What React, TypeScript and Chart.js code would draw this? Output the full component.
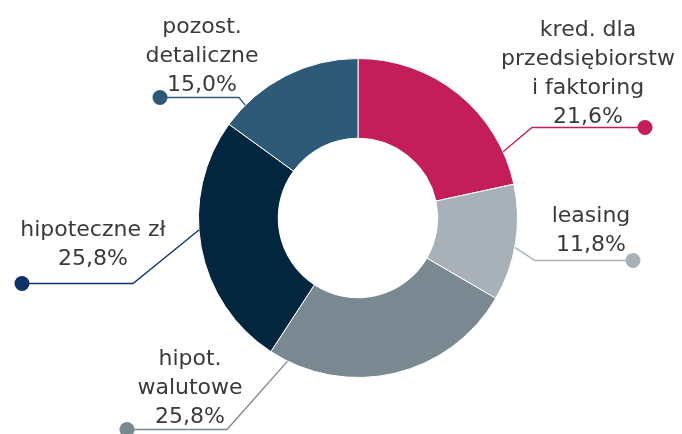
import React, { useEffect, useRef } from "react";
import { Chart, registerables } from "chart.js";

Chart.register(...registerables);

const categories = [
  "kred. dla przedsiębiorstw i faktoring",
  "leasing",
  "hipot. walutowe",
  "hipoteczne zł",
  "pozost. detaliczne",
];
const values = [21.6, 11.8, 25.8, 25.8, 15.0];
const labelLines = [
  ["kred. dla", "przedsiębiorstw", "i faktoring", "21,6%"],
  ["leasing", "11,8%"],
  ["hipot.", "walutowe", "25,8%"],
  ["hipoteczne zł", "25,8%"],
  ["pozost.", "detaliczne", "15,0%"],
];
const colors = ["#C41E5A", "#A9B1B8", "#7A8891", "#03263F", "#2E5977"];
const leaderColors = ["#C41E5A", "#A9B1B8", "#7A8891", "#0D3268", "#2E5977"];

// label layout (annotation placement)
const labelLayout = [
  { angle: -24.5, elbow: [532, 127], dot: [645, 127], text: [588, 36] },
  { angle: 10.6, elbow: [535, 260], dot: [633, 260], text: [591, 222] },
  { angle: 116.2, elbow: [227, 429], dot: [127, 429], text: [190, 365] },
  { angle: 175.7, elbow: [133, 283], dot: [22, 283], text: [93, 236] },
  { angle: -135, elbow: [239, 97], dot: [160, 97], text: [202, 33] },
];

const labelPlugin = {
  id: "leaderLabels",
  afterDraw(chart: any) {
    const ctx = chart.ctx;
    const meta = chart.getDatasetMeta(0);
    const arc0 = meta.data[0] as any;
    const cx = arc0.x;
    const cy = arc0.y;
    const r = arc0.outerRadius;
    ctx.save();
    labelLayout.forEach((l, i) => {
      const a = (l.angle * Math.PI) / 180;
      const sx = cx + Math.cos(a) * r;
      const sy = cy + Math.sin(a) * r;
      ctx.strokeStyle = leaderColors[i];
      ctx.lineWidth = 1.3;
      ctx.beginPath();
      ctx.moveTo(sx, sy);
      ctx.lineTo(l.elbow[0], l.elbow[1] + 0.5);
      ctx.lineTo(l.dot[0], l.dot[1] + 0.5);
      ctx.stroke();
      ctx.fillStyle = leaderColors[i];
      ctx.beginPath();
      ctx.arc(l.dot[0], l.dot[1] + 0.5, 7.5, 0, Math.PI * 2);
      ctx.fill();
      ctx.fillStyle = "#3A3A3A";
      ctx.font = "22px 'DejaVu Sans'";
      ctx.textAlign = "center";
      ctx.textBaseline = "alphabetic";
      labelLines[i].forEach((t, j) => {
        ctx.fillText(t, l.text[0], l.text[1] + j * 29);
      });
    });
    ctx.restore();
  },
};

export default function App() {
  const ref = useRef<HTMLCanvasElement>(null);
  useEffect(() => {
    if (!ref.current) return;
    const chart = new Chart(ref.current, {
      type: "doughnut",
      data: {
        labels: categories,
        datasets: [
          {
            data: values,
            backgroundColor: colors,
            borderColor: "#ffffff",
            borderWidth: 1,
          },
        ],
      },
      options: {
        responsive: false,
        animation: false,
        cutout: "50%",
        layout: { padding: { left: 198, right: 164, top: 58, bottom: 56 } },
        plugins: {
          legend: { display: false },
          tooltip: { enabled: false },
        },
      },
      plugins: [labelPlugin],
    });
    return () => chart.destroy();
  }, []);
  return (
    <div style={{ position: "fixed", left: 0, top: 0, width: 682, height: 434, background: "#fff" }}>
      <canvas ref={ref} width={682} height={434} />
    </div>
  );
}
